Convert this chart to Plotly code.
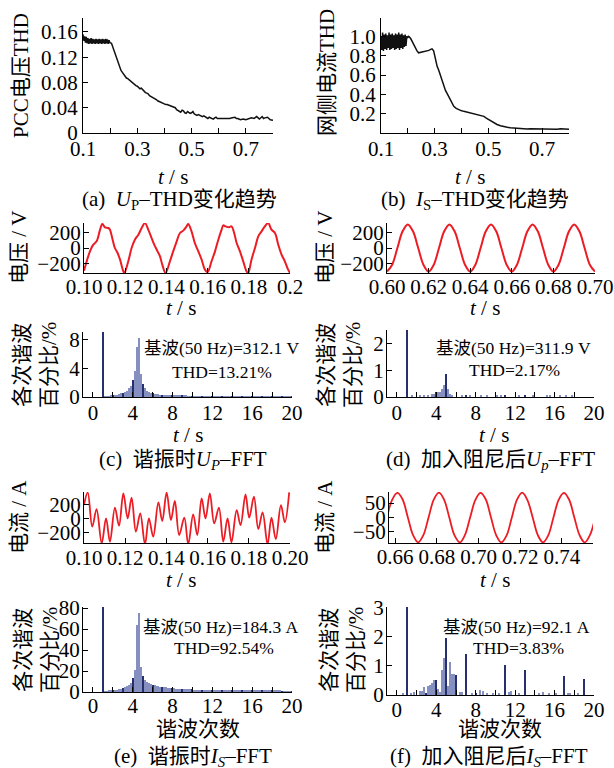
import plotly.graph_objects as go

# ---------------- data ----------------
# (a) PCC voltage THD trend
thd_u_t = [0.100, 0.103, 0.106, 0.109, 0.112, 0.115, 0.118, 0.121, 0.124, 0.127, 0.130, 0.133,
           0.136, 0.139, 0.142, 0.145, 0.148, 0.151, 0.154, 0.157, 0.160, 0.163, 0.166, 0.169,
           0.172, 0.175, 0.178, 0.181, 0.184, 0.187, 0.190, 0.193, 0.196, 0.199,
           0.205, 0.210, 0.215, 0.220, 0.225, 0.230, 0.235, 0.240, 0.245, 0.250, 0.255, 0.260,
           0.265, 0.270, 0.275, 0.280, 0.285, 0.290, 0.295, 0.300, 0.305, 0.310, 0.315, 0.320,
           0.325, 0.330, 0.335, 0.340, 0.345, 0.350, 0.355, 0.360, 0.365, 0.370, 0.375, 0.380,
           0.385, 0.390, 0.395, 0.400, 0.405, 0.410, 0.415, 0.420, 0.425, 0.430, 0.435, 0.440,
           0.445, 0.450, 0.455, 0.460, 0.465, 0.470, 0.475, 0.480, 0.485, 0.490, 0.495, 0.500,
           0.505, 0.510, 0.515, 0.520, 0.525, 0.530, 0.535, 0.540, 0.545, 0.550, 0.555, 0.560,
           0.565, 0.570, 0.575, 0.580, 0.585, 0.590, 0.595, 0.600, 0.610, 0.620, 0.630, 0.640,
           0.650, 0.660, 0.665, 0.670, 0.680, 0.690, 0.700, 0.710, 0.720, 0.730, 0.740, 0.745,
           0.750, 0.760, 0.765, 0.770, 0.780, 0.790, 0.800]
thd_u_v = [0.156, 0.146, 0.153, 0.143, 0.152, 0.142, 0.150, 0.141, 0.149, 0.142, 0.150, 0.141,
           0.149, 0.142, 0.148, 0.141, 0.149, 0.142, 0.148, 0.141, 0.149, 0.142, 0.148, 0.141,
           0.149, 0.142, 0.148, 0.141, 0.149, 0.142, 0.148, 0.141, 0.147, 0.143,
           0.142, 0.136, 0.130, 0.124, 0.117, 0.110, 0.104, 0.099, 0.096, 0.093, 0.090, 0.087,
           0.086, 0.084, 0.082, 0.081, 0.078, 0.077, 0.075, 0.074, 0.071, 0.070, 0.071, 0.068,
           0.066, 0.064, 0.063, 0.062, 0.059, 0.058, 0.057, 0.055, 0.054, 0.053, 0.051, 0.050,
           0.049, 0.048, 0.046, 0.046, 0.045, 0.045, 0.044, 0.043, 0.042, 0.041, 0.041, 0.040,
           0.037, 0.036, 0.034, 0.033, 0.036, 0.035, 0.032, 0.031, 0.034, 0.033, 0.031, 0.032,
           0.034, 0.030, 0.029, 0.028, 0.029, 0.028, 0.027, 0.026, 0.027, 0.026, 0.024, 0.023,
           0.025, 0.024, 0.023, 0.022, 0.024, 0.025, 0.023, 0.023, 0.022, 0.023, 0.022, 0.023,
           0.024, 0.025, 0.023, 0.023, 0.021, 0.022, 0.021, 0.022, 0.024, 0.023, 0.026, 0.024,
           0.022, 0.026, 0.023, 0.024, 0.025, 0.021, 0.020]

# (b) grid-side current THD trend
thd_i_t = [0.100, 0.103, 0.106, 0.109, 0.112, 0.115, 0.118, 0.121, 0.124, 0.127, 0.130, 0.133,
           0.136, 0.139, 0.142, 0.145, 0.148, 0.151, 0.154, 0.157, 0.160, 0.163, 0.166, 0.169,
           0.172, 0.175, 0.178, 0.181, 0.184, 0.187, 0.190, 0.193, 0.196,
           0.200, 0.203, 0.210, 0.2155, 0.222, 0.228, 0.234, 0.240, 0.250, 0.259, 0.268, 0.278,
           0.285, 0.290, 0.296, 0.302, 0.309, 0.315, 0.321, 0.328, 0.334, 0.340, 0.346, 0.352,
           0.358, 0.365, 0.371, 0.380, 0.389, 0.398, 0.408, 0.420, 0.433, 0.445, 0.458, 0.470,
           0.483, 0.492, 0.501, 0.510, 0.520, 0.532, 0.545, 0.557, 0.570, 0.582, 0.594, 0.607,
           0.619, 0.631, 0.644, 0.656, 0.669, 0.681, 0.694, 0.706, 0.719, 0.731, 0.743, 0.756,
           0.768, 0.780, 0.792, 0.800]
thd_i_v = [1.00, 0.86, 1.04, 0.85, 1.02, 0.87, 1.03, 0.86, 1.01, 0.88, 1.04, 0.86,
           1.02, 0.87, 1.03, 0.88, 1.01, 0.86, 1.03, 0.87, 1.02, 0.88, 1.04, 0.86,
           1.02, 0.88, 1.03, 0.87, 1.01, 0.89, 1.02, 0.90, 1.00,
           0.99, 1.00, 0.98, 0.95, 0.91, 0.88, 0.85, 0.83, 0.835, 0.845, 0.85, 0.855,
           0.865, 0.87, 0.85, 0.77, 0.69, 0.65, 0.60, 0.54, 0.48, 0.44, 0.41, 0.375,
           0.345, 0.31, 0.276, 0.255, 0.24, 0.232, 0.224, 0.215, 0.207, 0.198, 0.19, 0.182,
           0.172, 0.155, 0.138, 0.12, 0.103, 0.088, 0.076, 0.066, 0.059, 0.055, 0.052, 0.048,
           0.045, 0.046, 0.042, 0.044, 0.043, 0.041, 0.042, 0.044, 0.038, 0.041, 0.042, 0.040,
           0.045, 0.042, 0.040, 0.038]

# (c) PCC voltage during resonance (V)
vr_t = [0.1000, 0.1029, 0.1045, 0.1061, 0.1078, 0.1089, 0.1102, 0.1118, 0.1126, 0.1137, 0.1150,
        0.1163, 0.1175, 0.1191, 0.1196, 0.1215, 0.1231, 0.1247, 0.1264, 0.1280, 0.1296, 0.1312,
        0.1325, 0.1341, 0.1357, 0.1369, 0.1380, 0.1396, 0.1417, 0.1433, 0.1450, 0.1466, 0.1482,
        0.1498, 0.1506, 0.1522, 0.1538, 0.1555, 0.1571, 0.1587, 0.1600, 0.1619, 0.1636, 0.1652,
        0.1668, 0.1676, 0.1687, 0.1703, 0.1716, 0.1729, 0.1741, 0.1757, 0.1773, 0.1789, 0.1797,
        0.1813, 0.1830, 0.1846, 0.1862, 0.1878, 0.1894, 0.1910, 0.1927, 0.1943, 0.1959, 0.1975,
        0.1991, 0.2000]
vr_v = [-300, -44, 44, 88, 242, 317, 273, 264, 242, 132, 0,
        -66, -154, -308, -330, -176, 0, 110, 176, 264, 330, 242,
        154, 44, -44, -110, -220, -330, -176, -44, 88, 198, 229,
        286, 317, 220, 66, -44, -154, -286, -317, -176, -44, 110,
        242, 299, 286, 273, 286, 198, 66, -44, -176, -308, -330,
        -154, 0, 154, 220, 286, 330, 242, 198, 44, -88, -176,
        -286, -330]

# (d) PCC voltage after damping (V)
vd_t = [0.6000, 0.6025, 0.6050, 0.6075, 0.6100, 0.6125, 0.6150, 0.6175, 0.6200, 0.6225, 0.6250,
        0.6275, 0.6300, 0.6325, 0.6350, 0.6375, 0.6400, 0.6425, 0.6450, 0.6475, 0.6500, 0.6525,
        0.6550, 0.6575, 0.6600, 0.6625, 0.6650, 0.6675, 0.6700, 0.6725, 0.6750, 0.6775, 0.6800,
        0.6825, 0.6850, 0.6875, 0.6900, 0.6925, 0.6950, 0.6975, 0.7000]
vd_v = [-311, -220, 0, 220, 311, 220, 0, -220, -311, -220, 0,
        220, 311, 220, 0, -220, -311, -220, 0, 220, 311, 220,
        0, -220, -311, -220, 0, 220, 311, 220, 0, -220, -311,
        -220, 0, 220, 311, 220, 0, -220, -311]

# (e) grid current during resonance (A)
ir_t = [0.1000, 0.1018, 0.1040, 0.1061, 0.1086, 0.1107, 0.1126, 0.1150, 0.1170, 0.1191,
        0.1212, 0.1231, 0.1252, 0.1273, 0.1296, 0.1315, 0.1336, 0.1361, 0.1380, 0.1401,
        0.1422, 0.1441, 0.1462, 0.1487, 0.1506, 0.1530, 0.1550, 0.1571, 0.1590, 0.1611,
        0.1632, 0.1655, 0.1676, 0.1697, 0.1716, 0.1741, 0.1760, 0.1784, 0.1802, 0.1825,
        0.1846, 0.1867, 0.1891, 0.1910, 0.1931, 0.1956, 0.1975, 0.1996]
ir_v = [192, 374, -120, 134, -360, 0, -336, 154, -106, 360,
        0, 298, -192, 72, -374, 0, -264, 230, -38, 374,
        -24, 250, -240, 10, -374, 58, -240, 288, 0, 360,
        -72, 154, -336, 0, -346, 120, -96, 346, 10, 312,
        -154, 86, -374, 10, -298, 192, -58, 374]

# (f) grid current after damping (A)
id_t = [0.6560, 0.6585, 0.6610, 0.6635, 0.6660, 0.6685, 0.6710, 0.6735, 0.6760, 0.6785, 0.6810,
        0.6835, 0.6860, 0.6885, 0.6910, 0.6935, 0.6960, 0.6985, 0.7010, 0.7035, 0.7060, 0.7085,
        0.7110, 0.7135, 0.7160, 0.7185, 0.7210, 0.7235, 0.7260, 0.7285, 0.7310, 0.7335, 0.7360,
        0.7385, 0.7410, 0.7435, 0.7460, 0.7485, 0.7510, 0.7535, 0.7560]
id_v = [0, 61, 85, 63, 2, -60, -86, -61, 0, 62, 86,
        61, -1, -62, -86, -60, 1, 61, 85, 62, 0, -61,
        -86, -62, 0, 62, 86, 60, 1, -61, -86, -62, 0,
        61, 85, 62, 1, -60, -86, -61, -2]

# harmonic orders of the dense spectra (0.2 resolution)
ORDERS = [0.0, 0.2, 0.4, 0.6, 0.8, 1.0, 1.2, 1.4, 1.6, 1.8, 2.0, 2.2, 2.4, 2.6, 2.8, 3.0, 3.2,
          3.4, 3.6, 3.8, 4.0, 4.2, 4.4, 4.6, 4.8, 5.0, 5.2, 5.4, 5.6, 5.8, 6.0, 6.2, 6.4, 6.6,
          6.8, 7.0, 7.2, 7.4, 7.6, 7.8, 8.0, 8.2, 8.4, 8.6, 8.8, 9.0, 9.2, 9.4, 9.6, 9.8, 10.0,
          10.2, 10.4, 10.6, 10.8, 11.0, 11.2, 11.4, 11.6, 11.8, 12.0, 12.2, 12.4, 12.6, 12.8,
          13.0, 13.2, 13.4, 13.6, 13.8, 14.0, 14.2, 14.4, 14.6, 14.8, 15.0, 15.2, 15.4, 15.6,
          15.8, 16.0, 16.2, 16.4, 16.6, 16.8, 17.0, 17.2, 17.4, 17.6, 17.8, 18.0, 18.2, 18.4,
          18.6, 18.8, 19.0, 19.2, 19.4, 19.6, 19.8, 20.0]

# (c) voltage spectrum during resonance (%)
spec_c = [0, 0, 0, 0, 0, 100, 0.07, 0.10, 0.14, 0.18, 0.22, 0.27, 0.33, 0.40, 0.50, 0.60, 0.75,
          0.90, 1.20, 1.60, 2.40, 3.60, 7.00, 8.20, 3.20, 1.80, 1.20, 0.90, 0.70, 0.60, 0.50,
          0.45, 0.40, 0.36, 0.33, 0.30, 0.28, 0.26, 0.24, 0.22, 0.20, 0.19, 0.18, 0.17, 0.16,
          0.16, 0.15, 0.15, 0.14, 0.14, 0.13, 0.13, 0.12, 0.12, 0.12, 0.12, 0.11, 0.11, 0.11,
          0.10, 0.10, 0.10, 0.10, 0.09, 0.09, 0.09, 0.09, 0.09, 0.08, 0.08, 0.08, 0.08, 0.08,
          0.08, 0.07, 0.07, 0.07, 0.07, 0.07, 0.07, 0.07, 0.06, 0.06, 0.06, 0.06, 0.06, 0.06,
          0.06, 0.06, 0.06, 0.05, 0.05, 0.05, 0.05, 0.05, 0.05, 0.05, 0.05, 0.05, 0.05, 0.05]

# (e) current spectrum during resonance (%)
spec_e = [0, 0, 0, 0, 0, 100, 0.6, 0.8, 1.0, 1.3, 1.6, 1.9, 2.3, 2.7, 3.2, 3.8, 4.5,
          5.5, 7.0, 9.0, 13.0, 21.0, 64.0, 75.0, 24.0, 15.0, 11.0, 9.5, 8.5, 7.5, 7.0,
          6.5, 6.0, 5.5, 5.2, 5.0, 4.6, 4.3, 4.0, 3.8, 3.6, 3.4, 3.2, 3.1, 3.0,
          2.9, 2.8, 2.7, 2.6, 2.5, 2.4, 2.3, 2.3, 2.2, 2.1, 2.1, 2.0, 2.0, 1.9,
          1.9, 1.8, 1.8, 1.7, 1.7, 1.7, 1.6, 1.6, 1.6, 1.5, 1.5, 1.5, 1.4, 1.4,
          1.4, 1.4, 1.3, 1.3, 1.3, 1.3, 1.2, 1.2, 1.2, 1.2, 1.2, 1.1, 1.1, 1.1,
          1.1, 1.1, 1.0, 1.0, 1.0, 1.0, 1.0, 1.0, 0.9, 0.9, 0.9, 0.9, 0.9, 0.9]

# (d) voltage spectrum after damping (%)
orders_d = [1.0, 1.6, 2.4, 2.8, 3.2, 3.6, 3.8, 4.0, 4.2, 4.4, 4.6, 4.8, 5.0, 5.2, 5.4, 5.6,
            6.6, 7.0, 7.4, 8.6, 9.2, 10.2, 10.6, 11.0, 12.4, 13.0, 13.8, 15.2, 15.6, 16.6,
            17.2, 17.8]
spec_d = [100, 0.04, 0.06, 0.05, 0.05, 0.10, 0.12, 0.17, 0.18, 0.20, 0.30, 0.45, 0.85, 0.30,
          0.12, 0.05, 0.06, 0.08, 0.04, 0.05, 0.05, 0.05, 0.04, 0.06, 0.04, 0.05, 0.04, 0.04,
          0.06, 0.04, 0.05, 0.04]

# (f) current spectrum after damping (%)
orders_f = [0.6, 1.0, 1.4, 1.8, 2.4, 2.6, 2.8, 3.0, 3.2, 3.4, 3.6, 3.8, 4.0, 4.2, 4.4, 4.6,
            4.8, 5.0, 5.2, 5.4, 5.6, 5.8, 6.0, 6.4, 6.6, 7.0, 7.6, 8.0, 8.4, 8.8, 9.2, 9.8,
            10.4, 11.0, 11.4, 11.6, 12.4, 13.0, 14.4, 14.8, 15.4, 16.2, 17.0, 17.4, 17.6,
            18.4, 19.0]
spec_f = [0.05, 100, 0.04, 0.10, 0.15, 0.15, 0.29, 0.08, 0.31, 0.33, 0.40, 0.52, 0.52, 0.20,
          0.10, 0.86, 1.26, 1.95, 0.30, 1.12, 0.72, 0.72, 0.70, 0.10, 0.10, 1.40, 0.05, 0.05,
          0.17, 0.15, 0.05, 0.06, 0.05, 1.03, 0.11, 0.15, 0.05, 0.86, 0.08, 0.10, 0.05, 0.06,
          0.65, 0.05, 0.04, 0.05, 0.55]

# ---------------- layout helpers ----------------
W, H = 614, 768
SERIF = "Liberation Serif, Noto Sans CJK SC, serif"
RED = "#ec1c24"
DARK = "#27306e"
LIGHT = "#8590c0"


def dom(x0, x1, y0, y1):
    return [x0 / W, x1 / W], [1 - y1 / H, 1 - y0 / H]


fig = go.Figure()
layout_axes = {}

# name, pixel box, xrange, yrange, xticks, xticktext, yticks, yticktext, xminor,
# x-label standoff, y-label standoff
panels = [
    ("a", (83, 273, 18, 133), [0.1, 0.8], [0, 0.182],
     [0.1, 0.3, 0.5, 0.7], ["0.1", "0.3", "0.5", "0.7"],
     [0, 0.04, 0.08, 0.12, 0.16], ["0", "0.04", "0.08", "0.12", "0.16"], 0.1, -3, 0),
    ("b", (381, 569, 18, 133), [0.1, 0.8], [0, 1.19],
     [0.1, 0.3, 0.5, 0.7], ["0.1", "0.3", "0.5", "0.7"],
     [0.2, 0.4, 0.6, 0.8, 1.0], ["0.2", "0.4", "0.6", "0.8", "1.0"], 0.1, -3, 0),
    ("cw", (84, 290, 223, 273), [0.1, 0.2], [-330, 330],
     [0.10, 0.12, 0.14, 0.16, 0.18, 0.20], ["0.10", "0.12", "0.14", "0.16", "0.18", "0.2"],
     [-200, 0, 200], ["\u2212200", "0", "200"], None, -5, -2),
    ("dw", (387, 595, 223, 273), [0.6, 0.7], [-330, 330],
     [0.60, 0.62, 0.64, 0.66, 0.68, 0.70], ["0.60", "0.62", "0.64", "0.66", "0.68", "0.70"],
     [-200, 0, 200], ["\u2212200", "0", "200"], None, -5, -2),
    ("cf", (83, 292, 332, 397), [-1, 20], [0, 9.1],
     [0, 4, 8, 12, 16, 20], ["0", "4", "8", "12", "16", "20"],
     [0, 4, 8], ["0", "4", "8"], 2, -3, -2),
    ("df", (387, 594, 330, 397), [-1, 20], [0, 2.5],
     [0, 4, 8, 12, 16, 20], ["0", "4", "8", "12", "16", "20"],
     [0, 1, 2], ["0", "1", "2"], 2, -3, -2),
    ("ew", (84, 290, 492, 543), [0.1, 0.2], [-355, 380],
     [0.10, 0.12, 0.14, 0.16, 0.18, 0.20], ["0.10", "0.12", "0.14", "0.16", "0.18", "0.20"],
     [-200, 0, 200], ["\u2212200", "0", "200"], None, -4, -2),
    ("fw", (389, 593, 492, 543), [0.657, 0.755], [-88, 88],
     [0.66, 0.68, 0.70, 0.72, 0.74], ["0.66", "0.68", "0.70", "0.72", "0.74"],
     [-50, 0, 50], ["\u221250", "0", "50"], None, -5, -2),
    ("ef", (83, 292, 607, 692), [-1, 20], [0, 81],
     [0, 4, 8, 12, 16, 20], ["0", "4", "8", "12", "16", "20"],
     [0, 20, 40, 60, 80], ["0", "20", "40", "60", "80"], 2, -5, -2),
    ("ff", (387, 594, 607, 695), [-1, 20], [0, 3.03],
     [0, 4, 8, 12, 16, 20], ["0", "4", "8", "12", "16", "20"],
     [0, 1, 2, 3], ["0", "1", "2", "3"], 2, -4, -2),
]

axis_ids = {}
for i, (name, box, xr, yr, xt, xtt, yt, ytt, xminor, xso, yso) in enumerate(panels, start=1):
    xd, yd = dom(*box)
    sfx = "" if i == 1 else str(i)
    axis_ids[name] = ("x" + sfx, "y" + sfx)
    common = dict(showline=True, linecolor="black", linewidth=1.2, ticks="inside",
                  ticklen=5, tickwidth=1.2, tickcolor="black", showgrid=False,
                  zeroline=False, fixedrange=True, automargin=False,
                  tickfont=dict(family=SERIF, size=21, color="black"))
    xa = dict(common, domain=xd, range=xr, tickvals=xt, ticktext=xtt, tickangle=0,
              ticklabelstandoff=xso, anchor="y" + sfx)
    if xminor is not None:
        xa["minor"] = dict(dtick=xminor, tick0=xr[0] if name in ("a", "b") else 0,
                           ticks="inside", ticklen=5, tickwidth=1.2, tickcolor="black")
    ya = dict(common, domain=yd, range=yr, tickvals=yt, ticktext=ytt,
              ticklabelstandoff=yso, anchor="x" + sfx)
    layout_axes["xaxis" + sfx] = xa
    layout_axes["yaxis" + sfx] = ya

# ---------------- traces ----------------
def add_line(name, t, v, color, width, spline=False):
    xa, ya = axis_ids[name]
    fig.add_trace(go.Scatter(x=t, y=v, mode="lines", xaxis=xa, yaxis=ya,
                             line=dict(color=color, width=width,
                                       shape="spline" if spline else "linear",
                                       smoothing=1.0 if spline else None),
                             hoverinfo="skip", showlegend=False))


def add_bars(name, orders, values):
    xa, ya = axis_ids[name]
    colors = [DARK if abs(o - round(o)) < 1e-6 else LIGHT for o in orders]
    fig.add_trace(go.Bar(x=orders, y=values, xaxis=xa, yaxis=ya, width=0.13,
                         marker=dict(color=colors, line=dict(width=0)),
                         hoverinfo="skip", showlegend=False))


add_line("a", thd_u_t, thd_u_v, "#111111", 1.5)
add_line("b", thd_i_t, thd_i_v, "#111111", 1.5)
add_line("cw", vr_t, vr_v, RED, 2, spline=True)
add_line("dw", vd_t, vd_v, RED, 2, spline=True)
add_line("ew", ir_t, ir_v, RED, 1.8, spline=True)
add_line("fw", id_t, id_v, RED, 1.8, spline=True)
add_bars("cf", ORDERS, spec_c)
add_bars("df", orders_d, spec_d)
add_bars("ef", ORDERS, spec_e)
add_bars("ff", orders_f, spec_f)

# ---------------- text ----------------
annotations = []


def txt(text, x, y, size=21, angle=0):
    annotations.append(dict(text=text, x=x / W, y=1 - y / H, xref="paper", yref="paper",
                            showarrow=False, xanchor="center", yanchor="middle",
                            textangle=angle, font=dict(family=SERIF, size=size, color="black")))


NB = "\u00a0"
# y-axis titles
txt("PCC电压THD", 21, 76, angle=-90)
txt("网侧电流THD", 327, 73, angle=-90)
txt("电压" + NB + "/" + NB + "V", 19, 247, angle=-90)
txt("电压" + NB + "/" + NB + "V", 325, 247, angle=-90)
txt("各次谐波<br>百分比/%", 35, 365, angle=-90)
txt("各次谐波<br>百分比/%", 339, 365, angle=-90)
txt("电流" + NB + "/" + NB + "A", 19, 517, angle=-90)
txt("电流" + NB + "/" + NB + "A", 325, 517, angle=-90)
txt("各次谐波<br>百分比/%", 36, 650, angle=-90)
txt("各次谐波<br>百分比/%", 342, 650, angle=-90)

# x-axis titles
TS = "<i>t</i>" + NB + "/" + NB + "s"
for (x, y) in [(173, 177), (470, 177), (181, 308), (485, 308), (188, 435), (494, 435),
               (181, 580), (495, 580)]:
    txt(TS, x, y)
txt("谐波次数", 198, 729)
txt("谐波次数", 500, 729)

# captions
txt("(a)" + NB * 2 + "<i>U</i><sub>P</sub>–THD变化趋势", 179, 200)
txt("(b)" + NB * 2 + "<i>I</i><sub>S</sub>–THD变化趋势", 475, 200)
txt("(c)" + NB * 2 + "谐振时<i>U<sub>P</sub></i>–FFT", 183, 460)
txt("(d)" + NB * 2 + "加入阻尼后<i>U<sub>p</sub></i>–FFT", 490, 460)
txt("(e)" + NB * 2 + "谐振时<i>I<sub>S</sub></i>–FFT", 193, 757)
txt("(f)" + NB * 2 + "加入阻尼后<i>I<sub>S</sub></i>–FFT", 489, 757)

# FFT annotations
txt("基波(50" + NB + "Hz)=312.1" + NB + "V", 222, 348, size=17.5)
txt("THD=13.21%", 222, 372, size=17.5)
txt("基波(50" + NB + "Hz)=311.9" + NB + "V", 513, 348, size=17.5)
txt("THD=2.17%", 514, 370, size=17.5)
txt("基波(50" + NB + "Hz)=184.3" + NB + "A", 221, 627, size=17.5)
txt("THD=92.54%", 224, 648, size=17.5)
txt("基波(50" + NB + "Hz)=92.1" + NB + "A", 516, 627, size=17.5)
txt("THD=3.83%", 518, 648, size=17.5)

fig.update_layout(
    width=W, height=H, autosize=False,
    margin=dict(l=0, r=0, t=0, b=0, pad=0, autoexpand=False),
    paper_bgcolor="white", plot_bgcolor="white",
    bargap=0, barmode="overlay",
    annotations=annotations,
    **layout_axes,
)

fig.write_html("out.html", config={"displayModeBar": False},
               post_script="document.body.style.margin='0px';")
